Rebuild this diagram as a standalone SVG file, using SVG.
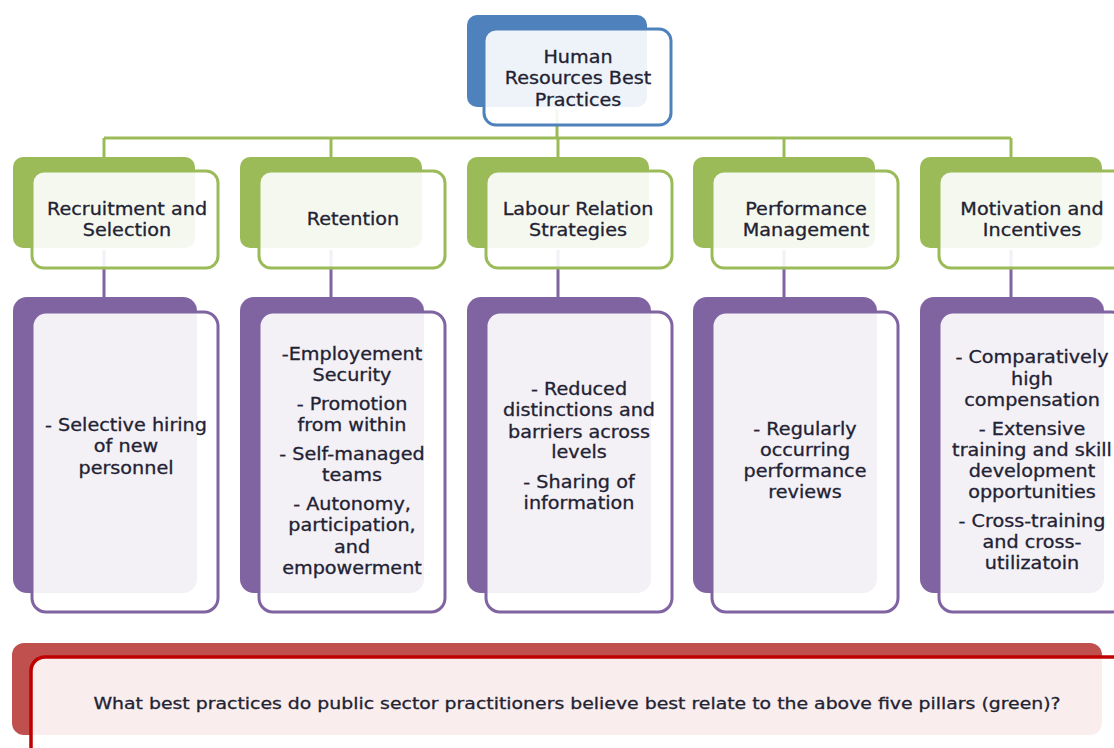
<svg xmlns="http://www.w3.org/2000/svg" width="1114" height="748" viewBox="0 0 1114 748">
  <style>
    .lbl { font-family: "DejaVu Sans", Verdana, sans-serif; font-size: 17px; fill: #222233; stroke: #222233; stroke-width: 0.3; text-anchor: middle; }
    .q { font-size: 16px; }
    .front { fill: #ffffff; fill-opacity: 0.9; stroke-width: 3; }
    .blue-back { fill: #4f81bd; }
    .blue-front { stroke: #4f81bd; }
    .green-back { fill: #9bbb59; }
    .green-front { stroke: #9bbb59; }
    .purple-back { fill: #8064a2; }
    .purple-front { stroke: #8064a2; }
    .red-back { fill: #c0504d; }
    .red-front { stroke: #c00000; stroke-width: 3.5; }
    .link-green { stroke: #9bbb59; stroke-width: 3; fill: none; }
    .link-purple { stroke: #8064a2; stroke-width: 3; fill: none; }
  </style>

  <rect width="1114" height="748" fill="#ffffff"/>

  <!-- connectors sit under the semi-opaque boxes -->
  <g id="connectors">
    <path class="link-green" d="M557,110 V138 M104,138 H1011 M104,138 V160 M331,138 V160 M558,138 V160 M784,138 V160 M1011,138 V160"/>
    <path class="link-purple" d="M104,250 V300 M331,250 V300 M558,250 V300 M784,250 V300 M1011,250 V300"/>
  </g>

  <!-- root -->
  <g id="node-root">
    <rect class="blue-back" x="467" y="15" width="180" height="92" rx="10"/>
    <rect class="front blue-front" x="484" y="29" width="187" height="96" rx="12"/>
    <g class="lbl" transform="translate(578,0) scale(1.13,1)">
      <text x="0" y="63">Human</text>
      <text x="0" y="84">Resources Best</text>
      <text x="0" y="106">Practices</text>
    </g>
  </g>

  <!-- pillars (green) -->
  <g id="pillar-recruitment">
    <rect class="green-back" x="13" y="157" width="182" height="91" rx="10"/>
    <rect class="front green-front" x="32" y="171" width="186" height="97" rx="12"/>
    <g class="lbl" transform="translate(127,0) scale(1.13,1)">
      <text x="0" y="215">Recruitment and</text>
      <text x="0" y="236">Selection</text>
    </g>
  </g>
  <g id="pillar-retention">
    <rect class="green-back" x="240" y="157" width="182" height="91" rx="10"/>
    <rect class="front green-front" x="259" y="171" width="186" height="97" rx="12"/>
    <g class="lbl" transform="translate(353,0) scale(1.13,1)">
      <text x="0" y="225">Retention</text>
    </g>
  </g>
  <g id="pillar-labour">
    <rect class="green-back" x="467" y="157" width="182" height="91" rx="10"/>
    <rect class="front green-front" x="486" y="171" width="186" height="97" rx="12"/>
    <g class="lbl" transform="translate(578,0) scale(1.13,1)">
      <text x="0" y="215">Labour Relation</text>
      <text x="0" y="236">Strategies</text>
    </g>
  </g>
  <g id="pillar-performance">
    <rect class="green-back" x="693" y="157" width="182" height="91" rx="10"/>
    <rect class="front green-front" x="712" y="171" width="186" height="97" rx="12"/>
    <g class="lbl" transform="translate(806,0) scale(1.13,1)">
      <text x="0" y="215">Performance</text>
      <text x="0" y="236">Management</text>
    </g>
  </g>
  <g id="pillar-motivation">
    <rect class="green-back" x="920" y="157" width="182" height="91" rx="10"/>
    <rect class="front green-front" x="939" y="171" width="186" height="97" rx="12"/>
    <g class="lbl" transform="translate(1032,0) scale(1.13,1)">
      <text x="0" y="215">Motivation and</text>
      <text x="0" y="236">Incentives</text>
    </g>
  </g>

  <!-- practices (purple) -->
  <g id="practices-recruitment">
    <rect class="purple-back" x="13" y="297" width="184" height="296" rx="14"/>
    <rect class="front purple-front" x="32" y="312" width="186" height="300" rx="14"/>
    <g class="lbl" transform="translate(126,0) scale(1.13,1)">
      <text x="0" y="431">- Selective hiring</text>
      <text x="0" y="452">of new</text>
      <text x="0" y="474">personnel</text>
    </g>
  </g>
  <g id="practices-retention">
    <rect class="purple-back" x="240" y="297" width="184" height="296" rx="14"/>
    <rect class="front purple-front" x="259" y="312" width="186" height="300" rx="14"/>
    <g class="lbl" transform="translate(352,0) scale(1.13,1)">
      <text x="0" y="360">-Employement</text>
      <text x="0" y="381">Security</text>
      <text x="0" y="410">- Promotion</text>
      <text x="0" y="431">from within</text>
      <text x="0" y="460">- Self-managed</text>
      <text x="0" y="481">teams</text>
      <text x="0" y="510">- Autonomy,</text>
      <text x="0" y="531">participation,</text>
      <text x="0" y="553">and</text>
      <text x="0" y="574">empowerment</text>
    </g>
  </g>
  <g id="practices-labour">
    <rect class="purple-back" x="467" y="297" width="184" height="296" rx="14"/>
    <rect class="front purple-front" x="486" y="312" width="186" height="300" rx="14"/>
    <g class="lbl" transform="translate(579,0) scale(1.13,1)">
      <text x="0" y="395">- Reduced</text>
      <text x="0" y="416">distinctions and</text>
      <text x="0" y="438">barriers across</text>
      <text x="0" y="458">levels</text>
      <text x="0" y="488">- Sharing of</text>
      <text x="0" y="509">information</text>
    </g>
  </g>
  <g id="practices-performance">
    <rect class="purple-back" x="693" y="297" width="184" height="296" rx="14"/>
    <rect class="front purple-front" x="712" y="312" width="186" height="300" rx="14"/>
    <g class="lbl" transform="translate(805,0) scale(1.13,1)">
      <text x="0" y="435">- Regularly</text>
      <text x="0" y="456">occurring</text>
      <text x="0" y="477">performance</text>
      <text x="0" y="498">reviews</text>
    </g>
  </g>
  <g id="practices-motivation">
    <rect class="purple-back" x="920" y="297" width="184" height="296" rx="14"/>
    <rect class="front purple-front" x="939" y="312" width="186" height="300" rx="14"/>
    <g class="lbl" transform="translate(1032,0) scale(1.13,1)">
      <text x="0" y="363">- Comparatively</text>
      <text x="0" y="385">high</text>
      <text x="0" y="406">compensation</text>
      <text x="0" y="435">- Extensive</text>
      <text x="0" y="456">training and skill</text>
      <text x="0" y="477">development</text>
      <text x="0" y="498">opportunities</text>
      <text x="0" y="527">- Cross-training</text>
      <text x="0" y="548">and cross-</text>
      <text x="0" y="569">utilizatoin</text>
    </g>
  </g>

  <!-- question banner (red) -->
  <g id="question">
    <rect class="red-back" x="12" y="643" width="1090" height="92" rx="12"/>
    <rect class="front red-front" x="31" y="657" width="1100" height="110" rx="14"/>
    <g class="lbl q" transform="translate(577,0) scale(1.18,1)">
      <text x="0" y="709">What best practices do public sector practitioners believe best relate to the above five pillars (green)?</text>
    </g>
  </g>
</svg>
